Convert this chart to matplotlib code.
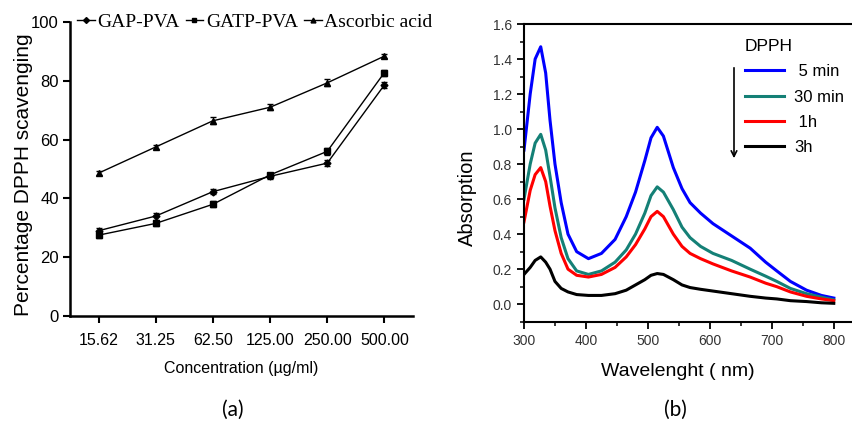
import matplotlib
matplotlib.use("Agg")
import matplotlib.pyplot as plt
from matplotlib.lines import Line2D

# (a) DPPH scavenging
conc_labels = ["15.62", "31.25", "62.50", "125.00", "250.00", "500.00"]
gap_pva = [29.0, 34.0, 42.3, 47.5, 52.0, 78.6]
gatp_pva = [27.5, 31.5, 38.0, 48.0, 56.0, 82.8]
ascorbic = [48.6, 57.5, 66.4, 71.0, 79.3, 88.4]
gap_err = [1.0, 1.2, 0.8, 0.8, 1.0, 1.0]
gatp_err = [1.0, 0.8, 1.0, 0.8, 1.2, 1.0]
asc_err = [0.8, 0.6, 1.2, 1.0, 1.2, 0.8]

# (b) UV-vis spectra
wavelength = [300, 310, 318, 327, 335, 342, 350, 360, 371, 385, 404, 425, 447, 465,
              480, 495, 505, 515, 525, 541, 555, 568, 585, 605, 635, 665, 690, 708,
              730, 756, 780, 800]
abs_5min = [0.88, 1.20, 1.40, 1.47, 1.32, 1.05, 0.80, 0.58, 0.40, 0.30, 0.26, 0.29,
            0.37, 0.50, 0.64, 0.82, 0.95, 1.01, 0.96, 0.78, 0.66, 0.58, 0.52, 0.46,
            0.39, 0.32, 0.24, 0.19, 0.13, 0.08, 0.05, 0.035]
abs_30min = [0.60, 0.80, 0.92, 0.97, 0.88, 0.73, 0.55, 0.38, 0.26, 0.19, 0.17, 0.19,
             0.24, 0.31, 0.40, 0.52, 0.62, 0.67, 0.64, 0.54, 0.44, 0.38, 0.33, 0.29,
             0.25, 0.20, 0.16, 0.13, 0.09, 0.06, 0.04, 0.025]
abs_1h = [0.47, 0.65, 0.74, 0.78, 0.70, 0.56, 0.42, 0.29, 0.20, 0.165, 0.155, 0.17,
          0.21, 0.27, 0.34, 0.43, 0.50, 0.53, 0.50, 0.40, 0.33, 0.29, 0.26, 0.23,
          0.19, 0.155, 0.12, 0.10, 0.07, 0.045, 0.03, 0.02]
abs_3h = [0.17, 0.21, 0.25, 0.27, 0.24, 0.20, 0.13, 0.09, 0.07, 0.055, 0.05, 0.05,
          0.06, 0.08, 0.11, 0.14, 0.165, 0.175, 0.17, 0.14, 0.11, 0.095, 0.085, 0.075,
          0.06, 0.045, 0.035, 0.03, 0.02, 0.015, 0.008, 0.005]

sans = ["Liberation Sans", "DejaVu Sans"]
serif = ["Liberation Serif", "DejaVu Serif"]

W, H = 853, 424
fig = plt.figure(figsize=(8.53, 4.24), dpi=100)

# ---- panel a ----
ax1 = fig.add_axes([70 / W, 1 - 316 / H, 343 / W, 294 / H])
x = list(range(len(conc_labels)))
series = [(gap_pva, gap_err, "D", 3.5, "GAP-PVA"),
          (gatp_pva, gatp_err, "s", 4, "GATP-PVA"),
          (ascorbic, asc_err, "^", 4, "Ascorbic acid")]
handles = []
for vals, err, mk, ms, lab in series:
    ax1.errorbar(x, vals, yerr=err, color="black", lw=1.0, marker=mk, ms=ms,
                 capsize=2, elinewidth=0.8)
    handles.append(Line2D([], [], color="black", lw=1.0, marker=mk, ms=ms - 0.5, label=lab))
ax1.set_xlim(-0.5, 5.5)
ax1.set_ylim(0, 100)
ax1.set_xticks(x)
ax1.set_xticklabels(conc_labels, family=sans, fontsize=11.5)
ax1.set_yticks(range(0, 101, 20))
ax1.set_yticklabels([str(v) for v in range(0, 101, 20)], family=sans, fontsize=12)
for s in ["top", "right"]:
    ax1.spines[s].set_visible(False)
for s in ["left", "bottom"]:
    ax1.spines[s].set_linewidth(1.8)
ax1.tick_params(direction="out", length=5, width=1.5, pad=3)
ax1.tick_params(axis="x", pad=7)
ax1.set_ylabel("Percentage DPPH scavenging", family=sans, fontsize=15)
ax1.yaxis.set_label_coords(-(70 - 33) / 343, (316 - 175) / 294)
ax1.set_xlabel("Concentration (\u00b5g/ml)", family=sans, fontsize=11.5)
ax1.xaxis.set_label_coords((241 - 70) / 343, -(361 - 316) / 294)
fig.legend(handles=handles, loc="center left", bbox_to_anchor=(77 / W, 1 - 22 / H),
           bbox_transform=fig.transFigure, ncol=3, frameon=False, borderpad=0,
           handlelength=0.9, handletextpad=0.15, columnspacing=0.3,
           prop={"family": serif, "size": 14}, borderaxespad=0)

# ---- panel b ----
ax2 = fig.add_axes([524 / W, 1 - 321.7 / H, 329 / W, 297.7 / H])
curves = [(abs_5min, "#0000ff", " 5 min"),
          (abs_30min, "#148076", "30 min"),
          (abs_1h, "#ff0000", " 1h"),
          (abs_3h, "#000000", "3h")]
for vals, col, lab in curves:
    ax2.plot(wavelength, vals, color=col, lw=2.2, label=lab)
ax2.set_xlim(300, 831)
ax2.set_ylim(-0.1, 1.6)
ax2.set_xticks(range(300, 801, 100))
ax2.set_xticks(range(350, 801, 100), minor=True)
ax2.set_yticks([i * 0.2 for i in range(9)])
ax2.set_yticks([i * 0.1 - 0.1 for i in range(18)], minor=True)
ax2.set_yticklabels([f"{i * 0.2:.1f}" for i in range(9)])
ax2.spines["right"].set_visible(False)
for s in ["left", "bottom", "top"]:
    ax2.spines[s].set_linewidth(1.5)
ax2.tick_params(which="major", direction="out", length=5, width=1.3, labelsize=10,
                labelcolor="#333333")
ax2.tick_params(which="minor", direction="out", length=3, width=1.1)
for lab in ax2.get_xticklabels() + ax2.get_yticklabels():
    lab.set_family(sans)
ax2.set_ylabel("Absorption", family=sans, fontsize=14.5)
ax2.yaxis.set_label_coords(-(524 - 477) / 329, (321.7 - 198) / 297.7)
ax2.set_xlabel("Wavelenght ( nm)", family=sans, fontsize=14)
ax2.xaxis.set_label_coords((678 - 524) / 329, -(363 - 321.7) / 297.7)
leg2 = ax2.legend(loc="upper left", bbox_to_anchor=(745 / W, 1 - 39 / H),
                  bbox_transform=fig.transFigure, frameon=False, borderpad=0,
                  title="DPPH", handlelength=2.35, handletextpad=0.6, labelspacing=0.62,
                  prop={"family": sans, "size": 12}, borderaxespad=0)
leg2.get_title().set_family(sans)
leg2.get_title().set_fontsize(12.5)
leg2._legend_box.align = "left"
ax2.annotate("", xy=(734 / W, 1 - 161 / H), xytext=(734 / W, 1 - 65 / H),
             xycoords="figure fraction", textcoords="figure fraction",
             arrowprops=dict(arrowstyle="->", color="black", lw=1.2))

fig.text(233 / W, 1 - 410 / H, "(a)", ha="center", va="center", family="Lato", fontsize=15)
fig.text(675 / W, 1 - 410 / H, "(b)", ha="center", va="center", family="Lato", fontsize=15)

fig.savefig("out.png", dpi=100)
